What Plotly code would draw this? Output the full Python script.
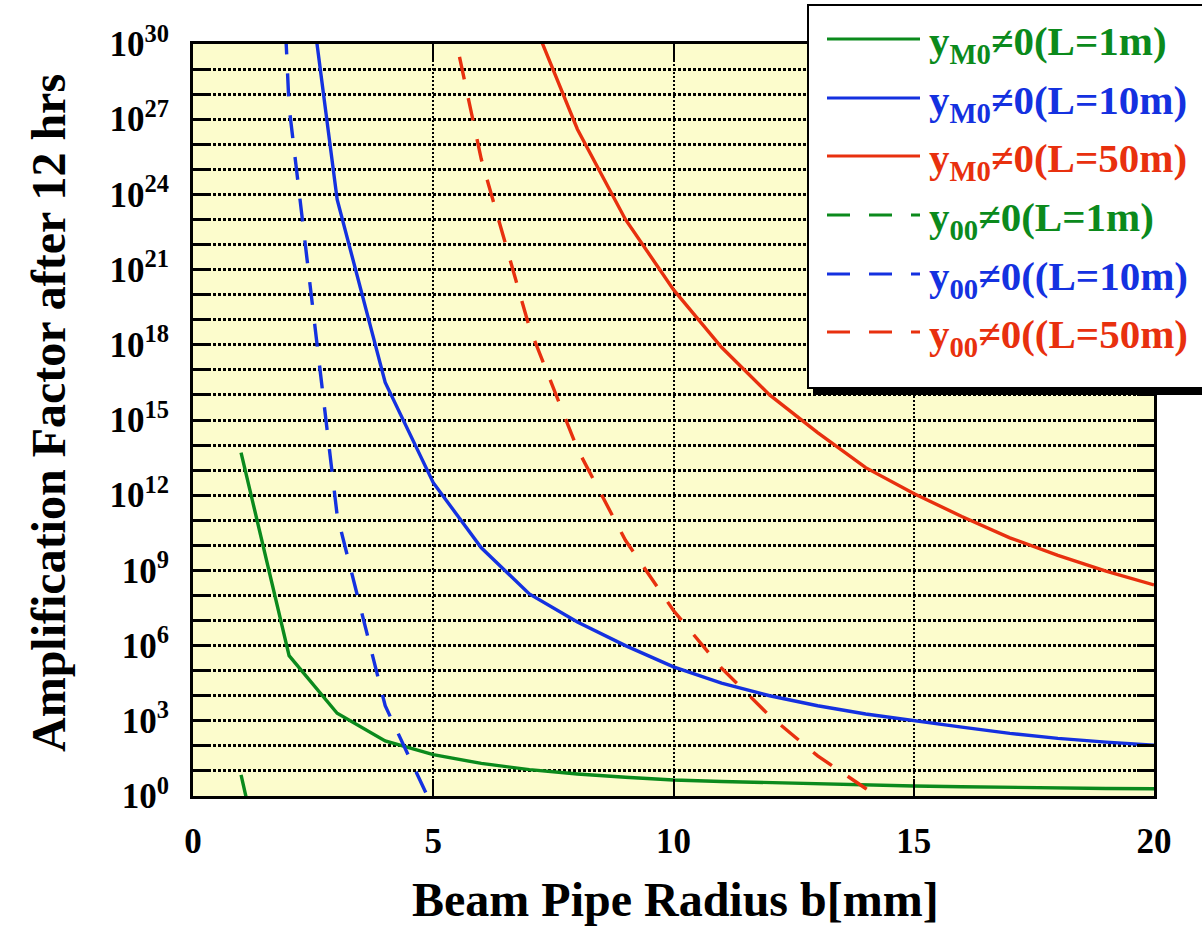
import plotly.graph_objects as go

# ---------------- data (log10 of amplification factor) ----------------
x_m0_1m = [1, 2, 3, 4, 5, 6, 7, 8, 9, 10, 11, 12, 13, 14, 15, 16, 17, 18, 19, 20]
e_m0_1m = [13.7, 5.6, 3.3, 2.2, 1.65, 1.3, 1.05, 0.88, 0.75, 0.64, 0.58, 0.53, 0.48, 0.44, 0.40, 0.37, 0.34, 0.32, 0.30, 0.29]

x_m0_10m = [2, 3, 4, 5, 6, 7, 8, 9, 10, 11, 12, 13, 14, 15, 16, 17, 18, 19, 20]
e_m0_10m = [38.6, 23.8, 16.5, 12.5, 9.9, 8.06, 6.94, 6.0, 5.15, 4.5, 4.0, 3.6, 3.27, 3.0, 2.75, 2.5, 2.3, 2.15, 2.03]

x_m0_50m = [7, 8, 9, 10, 11, 12, 13, 14, 15, 16, 17, 18, 19, 20]
e_m0_50m = [31.3, 26.6, 23.0, 20.2, 17.9, 16.0, 14.5, 13.1, 12.07, 11.15, 10.3, 9.6, 8.97, 8.42]

x_00_1m = [1, 2]
e_00_1m = [0.84, -7.6]

x_00_10m = [1, 2, 3, 4, 5]
e_00_10m = [69.0, 27.5, 11.2, 3.6, -0.5]

x_00_50m = [5, 6, 7, 8, 9, 10, 11, 12, 13, 14, 15]
e_00_50m = [34.4, 25.4, 18.7, 13.85, 10.2, 7.4, 5.1, 3.2, 1.6, 0.3, -0.9]

series_labels = [
    "y<sub>M0</sub>≠0(L=1m)",
    "y<sub>M0</sub>≠0(L=10m)",
    "y<sub>M0</sub>≠0(L=50m)",
    "y<sub>00</sub>≠0(L=1m)",
    "y<sub>00</sub>≠0((L=10m)",
    "y<sub>00</sub>≠0((L=50m)",
]
x_ticks = [0, 5, 10, 15, 20]
y_label_decades = list(range(0, 31, 3))
y_other_decades = [k for k in range(0, 31) if k % 3 != 0]

x_title = "Beam Pipe Radius b[mm]"
y_title = "Amplification Factor after 12 hrs"

# ---------------- styles ----------------
GREEN = "#0B8A1C"
BLUE = "#1431E0"
RED = "#E8300E"
DASH = "23px,19px"
FONT = "Liberation Serif"

W, H = 1202, 928
ML, MR, MT, MB = 193, 48, 44, 132
PW, PH = W - ML - MR, H - MT - MB


def px(x):
    return (x - ML) / PW


def py(y):
    return (H - MB - y) / PH


series = [
    (x_m0_1m, e_m0_1m, GREEN, "solid"),
    (x_m0_10m, e_m0_10m, BLUE, "solid"),
    (x_m0_50m, e_m0_50m, RED, "solid"),
    (x_00_1m, e_00_1m, GREEN, DASH),
    (x_00_10m, e_00_10m, BLUE, DASH),
    (x_00_50m, e_00_50m, RED, DASH),
]

fig = go.Figure()
for (xs, es, col, dash), lab in zip(series, series_labels):
    fig.add_trace(go.Scatter(
        x=xs, y=[10.0 ** e for e in es], mode="lines", name=lab,
        line=dict(color=col, width=3.4, dash=dash), showlegend=False,
    ))

fig.update_layout(
    width=W, height=H,
    margin=dict(l=ML, r=MR, t=MT, b=MB),
    paper_bgcolor="white",
    plot_bgcolor="#FCFCCC",
    font=dict(family=FONT, color="black"),
    showlegend=False,
)

fig.update_xaxes(
    range=[0, 20],
    tickvals=x_ticks,
    ticktext=["<b>%d</b>" % t for t in x_ticks],
    tickfont=dict(family=FONT, size=35, color="black"),
    ticks="inside", ticklen=17, tickwidth=2, tickcolor="black",
    showline=True, linewidth=3, linecolor="black", mirror="allticks",
    showgrid=True, gridcolor="black", gridwidth=2, griddash="2px,2px",
    zeroline=False,
    ticklabelstandoff=12,
)

fig.update_yaxes(
    type="log",
    range=[0, 30],
    tickvals=[10.0 ** k for k in y_label_decades],
    ticktext=["<b>10<sup>%d</sup></b>" % k for k in y_label_decades],
    tickfont=dict(family=FONT, size=35, color="black"),
    ticks="inside", ticklen=17, tickwidth=3, tickcolor="black",
    showline=True, linewidth=3, linecolor="black", mirror="allticks",
    showgrid=True, gridcolor="black", gridwidth=3, griddash="3px,2px",
    minor=dict(tickmode="array", tickvals=[10.0 ** k for k in y_other_decades],
               ticks="inside", ticklen=17, tickwidth=3, tickcolor="black",
               showgrid=True, gridcolor="black", gridwidth=3, griddash="3px,2px"),
    zeroline=False,
    ticklabelstandoff=14,
)

# ---------------- axis titles ----------------
annotations = [
    dict(text="<b>%s</b>" % x_title, xref="paper", yref="paper",
         x=px(675), y=py(899), xanchor="center", yanchor="middle",
         showarrow=False, font=dict(family=FONT, size=48, color="black")),
    dict(text="<b>%s</b>" % y_title, xref="paper", yref="paper",
         x=px(48), y=py(413), xanchor="center", yanchor="middle", textangle=-90,
         showarrow=False, font=dict(family=FONT, size=48, color="black")),
]

# ---------------- legend box (drawn manually) ----------------
shapes = [
    dict(type="rect", xref="paper", yref="paper",
         x0=px(813), x1=px(1210), y0=py(11), y1=py(395),
         fillcolor="black", line=dict(width=0), layer="above"),
    dict(type="rect", xref="paper", yref="paper",
         x0=px(808), x1=px(1204), y0=py(5), y1=py(388),
         fillcolor="white", line=dict(color="black", width=2), layer="above"),
]
row_y = [39, 98, 156, 215, 274, 332]
for (xs, es, col, dash), lab, ry in zip(series, series_labels, row_y):
    shapes.append(dict(type="line", xref="paper", yref="paper",
                       x0=px(827), x1=px(920), y0=py(ry), y1=py(ry),
                       line=dict(color=col, width=3, dash=dash), layer="above"))
    annotations.append(dict(text="<b>%s</b>" % lab, xref="paper", yref="paper",
                            x=px(927), y=py(ry + 5), xanchor="left", yanchor="middle",
                            showarrow=False, font=dict(family=FONT, size=41, color=col)))

fig.update_layout(shapes=shapes, annotations=annotations)

fig.write_html("out.html")
